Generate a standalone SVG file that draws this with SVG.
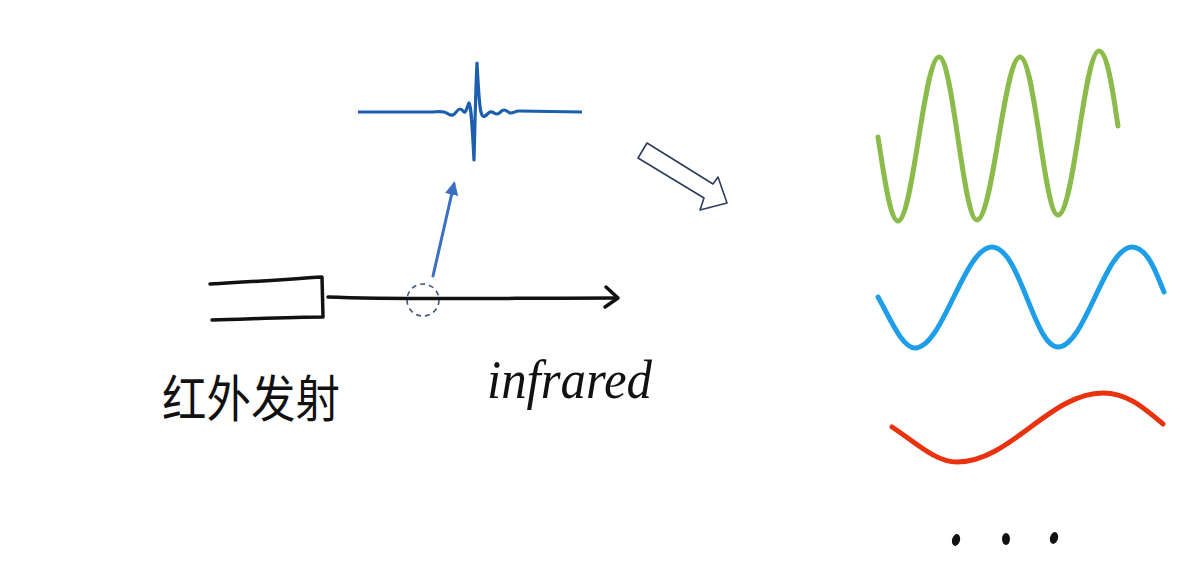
<svg xmlns="http://www.w3.org/2000/svg" width="1181" height="585" viewBox="0 0 1181 585">
<style>
.ink{fill:none;stroke:#111;stroke-width:3.5;stroke-linecap:round;stroke-linejoin:round}
.wave{fill:none;stroke-width:5;stroke-linecap:round;stroke-linejoin:round}
.hand{fill:#111}
</style>
<defs>
<marker id="blueHead" viewBox="0 0 10 10" refX="8" refY="5" markerWidth="4.5" markerHeight="4.5" orient="auto" markerUnits="strokeWidth">
<path d="M0,0 L10,5 L0,10 z" fill="#3a6fc4"/>
</marker>
</defs>
<rect width="1181" height="585" fill="#fff"/>

<g id="pulse">
<path d="M358,112 L430,112 C436,112 440,111 444,112 C448,113 450,116 453,115 C456,114 457,109 460,109 C463,109 463,113 465,112 C467,110 468,104 469,103 C471,106 472,120 474,160 C475,120 476,80 477,63 C478,80 479,105 481,112 C482,116 483,117 485,116 C487,115 488,113 490,112 C493,111 494,114 497,114 C500,114 501,110 504,110 C507,110 508,113 511,113 C514,113 515,111 519,111 L582,112" fill="none" stroke="#1c5fae" stroke-width="3.2" stroke-linejoin="round"/>
</g>

<g id="emitter">
<path class="ink" d="M210,284 C250,282 290,279 322,277 L323,317 C290,317 250,319 212,320"/>
</g>

<g id="detector">
<circle cx="423" cy="300" r="16" fill="none" stroke="#3d5a80" stroke-width="1.6" stroke-dasharray="5,4"/>
</g>

<g id="connectors">
<path class="ink" d="M328,297 C400,300 500,298 617,298"/>
<path class="ink" d="M606,287 L618,298 L605,307"/>
<line x1="433" y1="276" x2="454" y2="184" stroke="#3a6fc4" stroke-width="3" stroke-linecap="round" marker-end="url(#blueHead)"/>
<polygon points="647,143 713,184 718,177 727,203 700,210 704,198 638,158" fill="#fff" stroke="#2c3e5c" stroke-width="1.6" stroke-linejoin="round"/>
</g>

<g id="label-emit">
<text x="162" y="417" font-family="Noto Sans CJK SC, sans-serif" font-size="50" font-weight="400" textLength="178" lengthAdjust="spacingAndGlyphs" class="hand">红外发射</text>
</g>

<g id="label-infrared">
<text x="487" y="398" font-family="Liberation Serif, serif" font-style="italic" font-size="54" textLength="165" lengthAdjust="spacingAndGlyphs" class="hand">infrared</text>
</g>

<g id="wave-green">
<path class="wave" stroke="#8bbb4a" d="M878,137 C884,175 890,221 898,221 C913,221 924,57 939,57 C953,57 963,220 977,220 C993,220 1004,57 1020,57 C1035,57 1044,215 1058,215 C1074,215 1084,51 1099,51 C1108,51 1114,100 1118,126"/>
</g>

<g id="wave-blue">
<path class="wave" stroke="#1e9ee6" d="M878,297 C890,318 902,348 915,348 C943,348 964,247 992,247 C1020,247 1034,347 1058,347 C1085,347 1105,247 1132,247 C1148,247 1157,275 1164,292"/>
</g>

<g id="wave-red">
<path class="wave" stroke="#e8330e" d="M892,427 C915,442 935,462 957,462 C1010,462 1050,393 1103,393 C1130,393 1148,412 1163,424"/>
</g>

<g id="ellipsis">
<ellipse cx="956" cy="540" rx="4" ry="6" transform="rotate(15 956 540)" fill="#111"/>
<ellipse cx="1006" cy="539" rx="4" ry="6" fill="#111"/>
<ellipse cx="1054" cy="538" rx="4" ry="6" transform="rotate(15 1054 538)" fill="#111"/>
</g>
</svg>
